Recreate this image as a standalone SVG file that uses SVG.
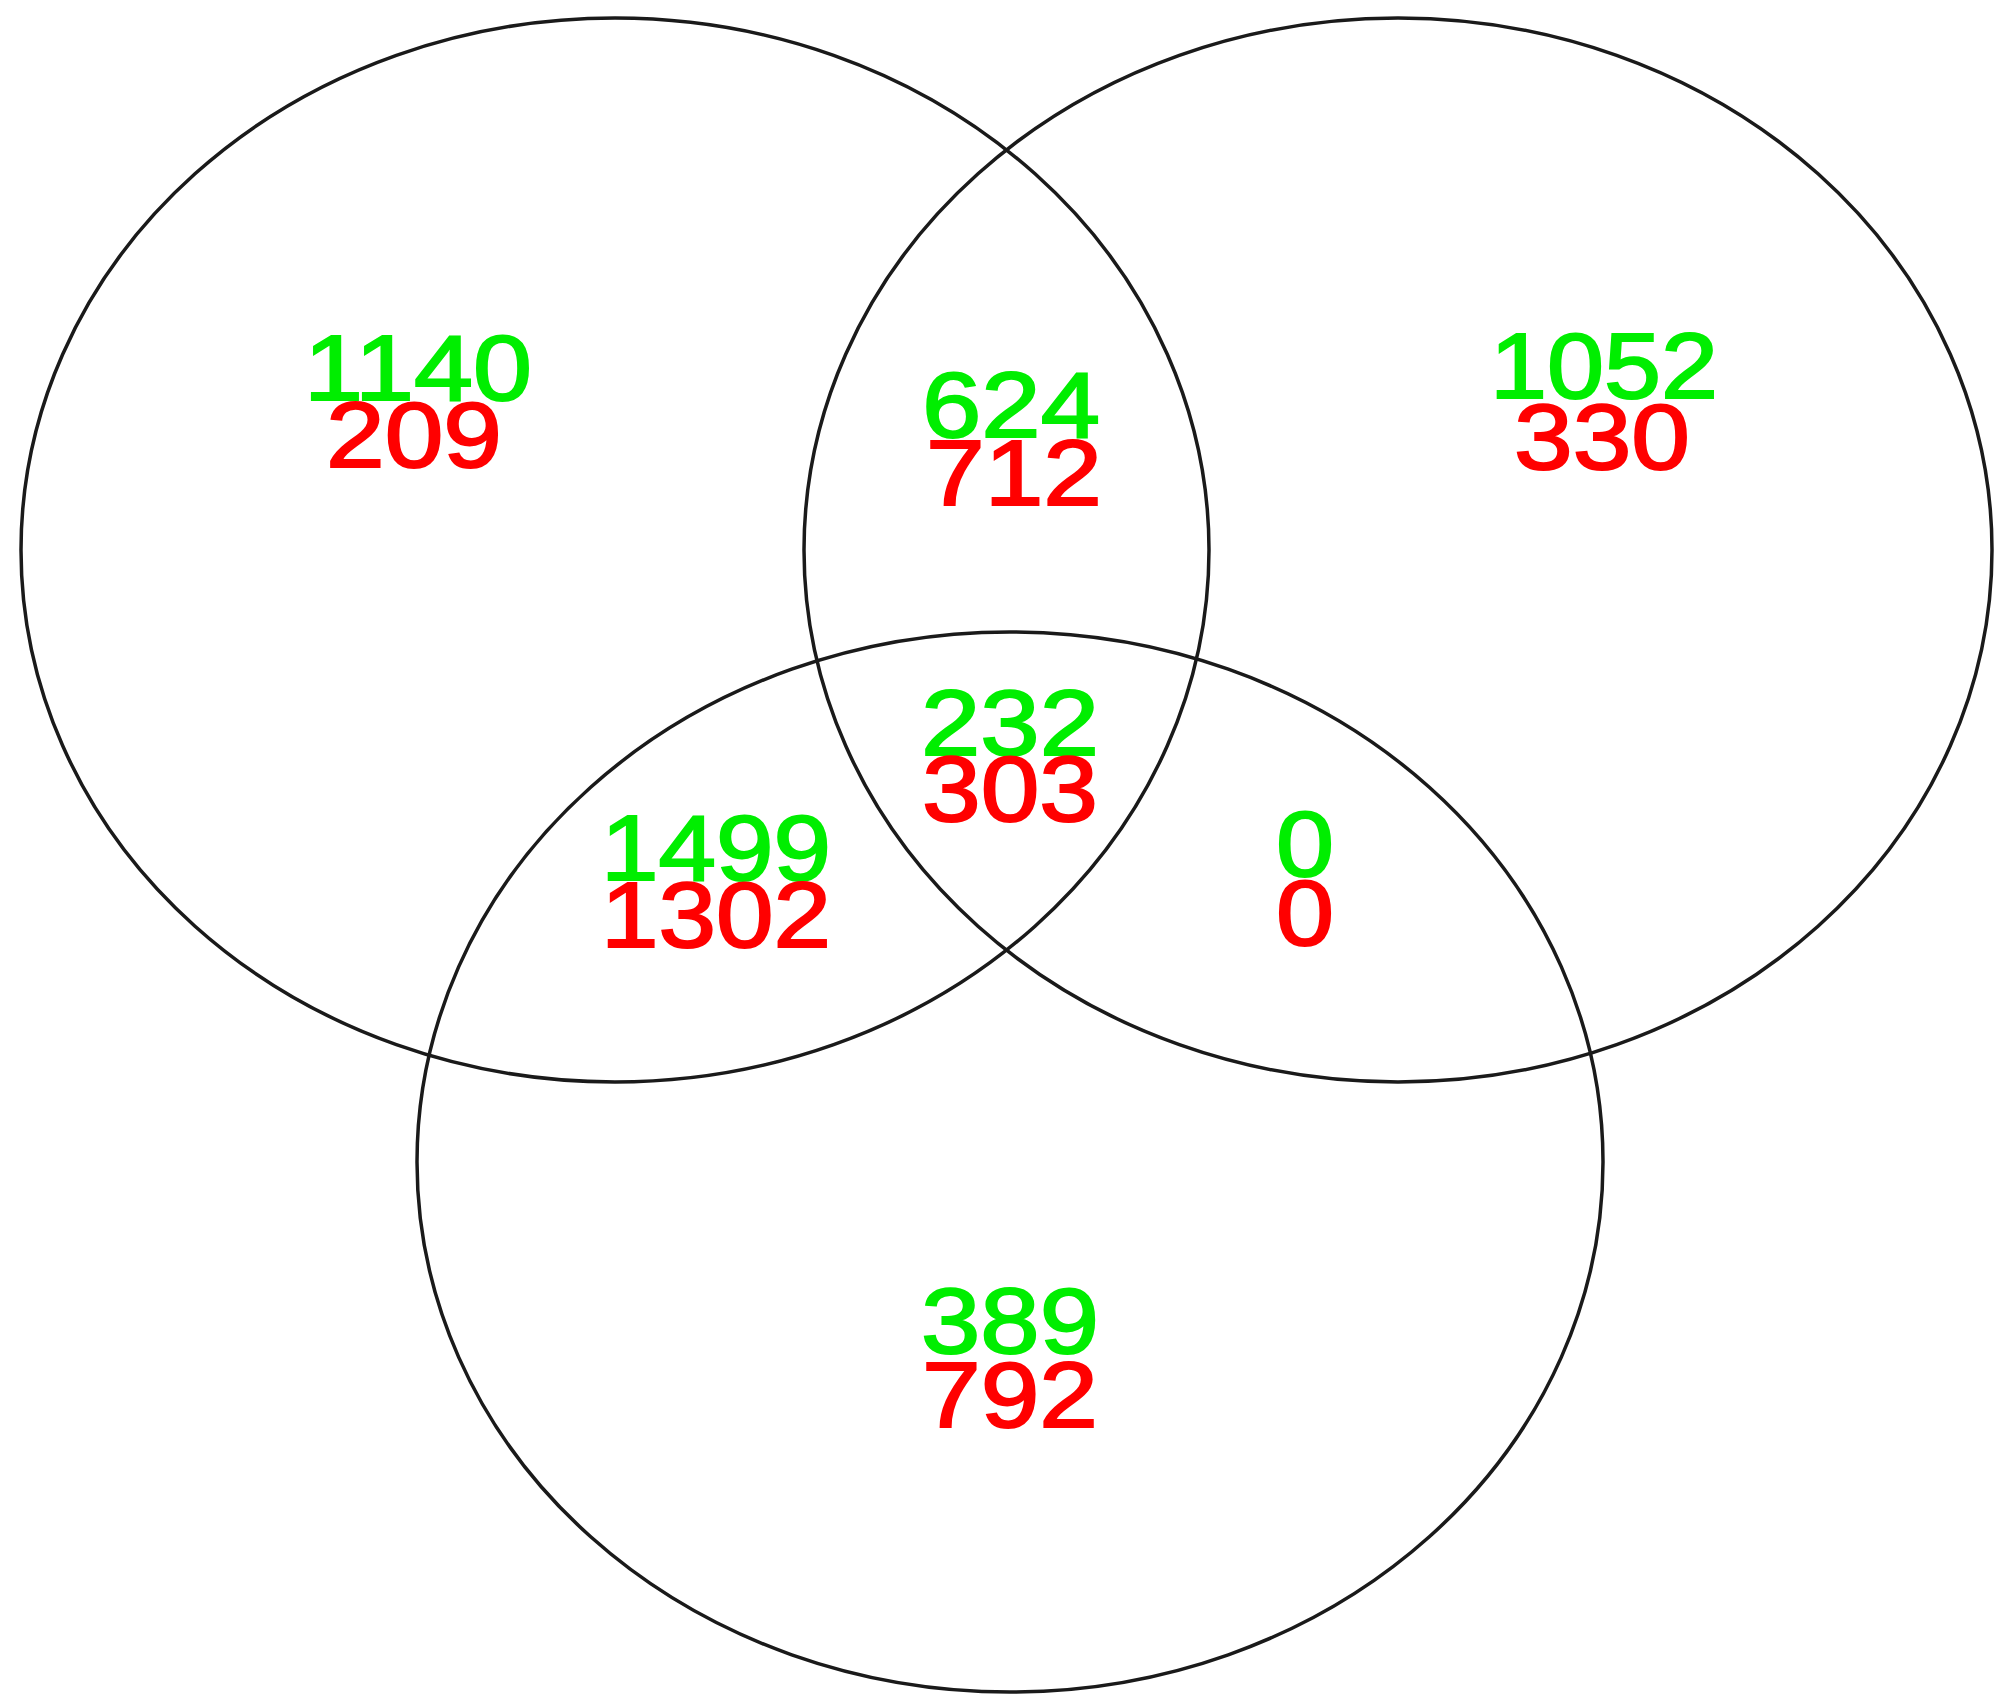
<svg xmlns="http://www.w3.org/2000/svg" width="1996" height="1698" viewBox="0 0 1996 1698">
<style>
.c{fill:none;stroke:#1a1a1a;stroke-width:3.5}
.g,.r{font-family:"Liberation Sans",Arial,sans-serif;font-size:92px;text-anchor:middle;stroke-width:2}
.g{fill:#00ee00;stroke:#00ee00}
.r{fill:#ff0000;stroke:#ff0000}
</style>
<rect width="1996" height="1698" fill="#fff"/>
<g id="sets">
<ellipse id="setA" class="c" cx="615" cy="550" rx="594" ry="532"/>
<ellipse id="setB" class="c" cx="1398" cy="550" rx="594" ry="532"/>
<ellipse id="setC" class="c" cx="1010" cy="1162" rx="593" ry="530"/>
</g>
<g id="labels">
<g id="onlyA"><text class="g" x="418" y="400" textLength="228" lengthAdjust="spacingAndGlyphs">1140</text><text class="r" x="414" y="467" textLength="176" lengthAdjust="spacingAndGlyphs">209</text></g>
<g id="AB"><text class="g" x="1011" y="437" textLength="178" lengthAdjust="spacingAndGlyphs">624</text><text class="r" x="1014" y="505" textLength="176" lengthAdjust="spacingAndGlyphs">712</text></g>
<g id="onlyB"><text class="g" x="1604" y="398" textLength="228" lengthAdjust="spacingAndGlyphs">1052</text><text class="r" x="1602" y="469" textLength="176" lengthAdjust="spacingAndGlyphs">330</text></g>
<g id="ABC"><text class="g" x="1010" y="755" textLength="178" lengthAdjust="spacingAndGlyphs">232</text><text class="r" x="1010" y="821" textLength="176" lengthAdjust="spacingAndGlyphs">303</text></g>
<g id="AC"><text class="g" x="716" y="880" textLength="230" lengthAdjust="spacingAndGlyphs">1499</text><text class="r" x="716" y="947" textLength="230" lengthAdjust="spacingAndGlyphs">1302</text></g>
<g id="BC"><text class="g" x="1305" y="876" textLength="58" lengthAdjust="spacingAndGlyphs">0</text><text class="r" x="1305" y="945" textLength="58" lengthAdjust="spacingAndGlyphs">0</text></g>
<g id="onlyC"><text class="g" x="1010" y="1353" textLength="178" lengthAdjust="spacingAndGlyphs">389</text><text class="r" x="1010" y="1427" textLength="176" lengthAdjust="spacingAndGlyphs">792</text></g>
</g>
</svg>
